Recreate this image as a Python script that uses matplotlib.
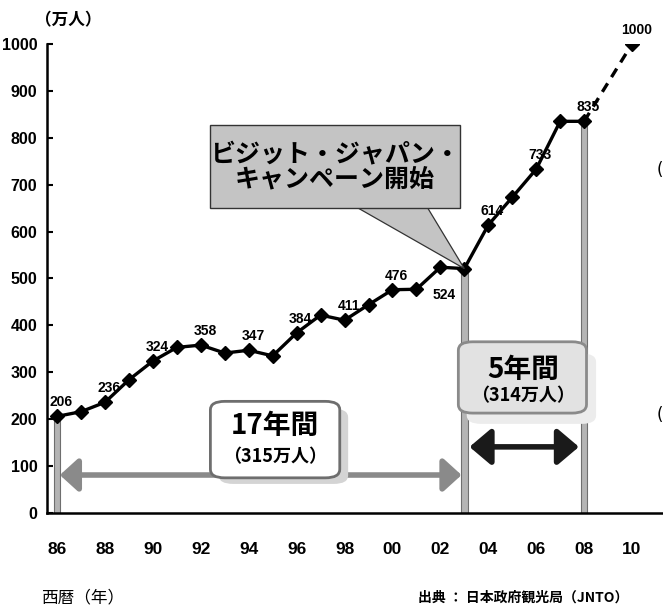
import matplotlib
matplotlib.use("Agg")
import matplotlib.pyplot as plt
from matplotlib.patches import FancyBboxPatch, Polygon, FancyArrowPatch

# 訪日外客数 (万人)
years = [1986, 1987, 1988, 1989, 1990, 1991, 1992, 1993, 1994, 1995, 1996, 1997,
         1998, 1999, 2000, 2001, 2002, 2003, 2004, 2005, 2006, 2007, 2008]
visitors = [206, 216, 236, 284, 324, 353, 358, 341, 347, 335, 384, 422,
            411, 444, 476, 477, 524, 521, 614, 673, 733, 835, 835]
target_years = [2008, 2010]
target_vals = [835, 1000]

labeled = {1986: 206, 1988: 236, 1990: 324, 1992: 358, 1994: 347, 1996: 384,
           1998: 411, 2000: 476, 2004: 614, 2006: 733, 2008: 835, 2010: 1000}
tick_years = list(range(1986, 2011, 2))
tick_labels = ['86', '88', '90', '92', '94', '96', '98', '00', '02', '04', '06', '08', '10']
y_ticks = list(range(0, 1001, 100))

bar_years = [1986, 2003, 2008]
bar_vals = [206, 521, 835]

NUM = dict(family=['Liberation Sans', 'DejaVu Sans'], fontweight='bold')
JP = ['Noto Sans CJK JP', 'DejaVu Sans']

fig = plt.figure(figsize=(6.63, 6.10), dpi=100)
ax = fig.add_axes([0.0709, 0.159, 0.929, 0.769])
ax.set_xlim(1985.58, 2011.29)
ax.set_ylim(0, 1000)

# gray vertical bars
ax.bar(bar_years, bar_vals, width=0.27, color='#b4b4b4', edgecolor='#6e6e6e',
       linewidth=0.8, zorder=2)

# main series
ax.plot(years, visitors, '-', color='black', lw=2.4, marker='D', ms=7.5,
        mfc='black', mec='black', zorder=5)
ax.plot(target_years, target_vals, '--', color='black', lw=2.4, dashes=(3, 2.2), zorder=5)
ax.plot([2010], [1000], marker='D', ms=7.5, color='black', zorder=5)

# data labels
for yr, v in labeled.items():
    ax.annotate(str(v), (yr, v), xytext=(3, 5), textcoords='offset points',
                ha='center', va='bottom', fontsize=10, **NUM)
ax.annotate('524', (2002, 524), xytext=(3, -15), textcoords='offset points',
            ha='center', va='top', fontsize=10, **NUM)

# axes styling
for s in ['top', 'right']:
    ax.spines[s].set_visible(False)
ax.spines['left'].set_linewidth(1.8)
ax.spines['bottom'].set_linewidth(1.8)
ax.set_yticks(y_ticks)
ax.set_yticklabels([str(v) for v in y_ticks], fontsize=11.5, **NUM)
ax.tick_params(axis='y', direction='in', length=4, width=1.5, pad=7)
ax.set_xticks(tick_years)
ax.set_xticklabels(tick_labels, fontsize=12.5, **NUM)
ax.tick_params(axis='x', length=0, pad=21)

# callout: ビジット・ジャパン・キャンペーン開始
ptr = Polygon([(1998.5, 652), (2001.45, 652), (2003, 521)], closed=True,
              facecolor='#c4c4c4', edgecolor='#333333', lw=0.9, zorder=6)
ax.add_patch(ptr)
box = FancyBboxPatch((1992.4, 650), 10.4, 177, boxstyle='square,pad=0',
                     facecolor='#c4c4c4', edgecolor='#333333', lw=1.0, zorder=6)
ax.add_patch(box)
ax.text(1997.6, 738, 'ビジット・ジャパン・\nキャンペーン開始', ha='center', va='center',
        fontsize=18, family=JP, fontweight='bold', linespacing=1.05, zorder=7)

# gray arrow (17 years)
ax.add_patch(FancyArrowPatch((1986.0, 81), (2003.0, 81),
                             arrowstyle='<|-|>,head_length=0.55,head_width=0.5',
                             mutation_scale=20, lw=4, color='#8a8a8a', zorder=4))
# black arrow (5 years)
ax.add_patch(FancyArrowPatch((2003.1, 141), (2007.9, 141),
                             arrowstyle='<|-|>,head_length=0.65,head_width=0.55',
                             mutation_scale=20, lw=4, color='#1a1a1a', zorder=4))

# 17年間 box
ax.add_patch(FancyBboxPatch((1992.75, 62), 5.4, 160, boxstyle='round,pad=0.0,rounding_size=0.6',
                            mutation_aspect=30, facecolor='#d4d4d4', edgecolor='none', zorder=6))
ax.add_patch(FancyBboxPatch((1992.4, 75), 5.4, 163, boxstyle='round,pad=0.0,rounding_size=0.6',
                            mutation_aspect=30, facecolor='white', edgecolor='#6e6e6e', lw=2.0, zorder=7))
ax.text(1995.1, 185, '17年間', ha='center', va='center', fontsize=20, family=JP,
        fontweight='bold', zorder=8)
ax.text(1995.1, 120, '（315万人）', ha='center', va='center', fontsize=13, family=JP,
        fontweight='bold', zorder=8)

# 5年間 box
ax.add_patch(FancyBboxPatch((2003.1, 190), 5.4, 150, boxstyle='round,pad=0.0,rounding_size=0.6',
                            mutation_aspect=30, facecolor='#ececec', edgecolor='none', zorder=6))
ax.add_patch(FancyBboxPatch((2002.75, 213), 5.35, 152, boxstyle='round,pad=0.0,rounding_size=0.6',
                            mutation_aspect=30, facecolor='#e2e2e2', edgecolor='#8a8a8a', lw=2.0, zorder=7))
ax.text(2005.45, 305, '5年間', ha='center', va='center', fontsize=20, family=JP,
        fontweight='bold', zorder=8)
ax.text(2005.45, 250, '（314万人）', ha='center', va='center', fontsize=13, family=JP,
        fontweight='bold', zorder=8)

# outer texts
fig.text(0.103, 0.966, '（万人）', ha='center', va='center', fontsize=12, family=JP, fontweight='bold')
fig.text(0.062, 0.020, '西暦（年）', ha='left', va='center', fontsize=12, family=JP)
fig.text(0.630, 0.020, '出典 ： 日本政府観光局（JNTO）', ha='left', va='center', fontsize=10,
         family=JP, fontweight='bold')
fig.text(0.99, 0.722, '(', ha='left', va='center', fontsize=12, family=['DejaVu Sans'])
fig.text(0.99, 0.320, '(', ha='left', va='center', fontsize=12, family=['DejaVu Sans'])

fig.savefig('out.png', dpi=100)
